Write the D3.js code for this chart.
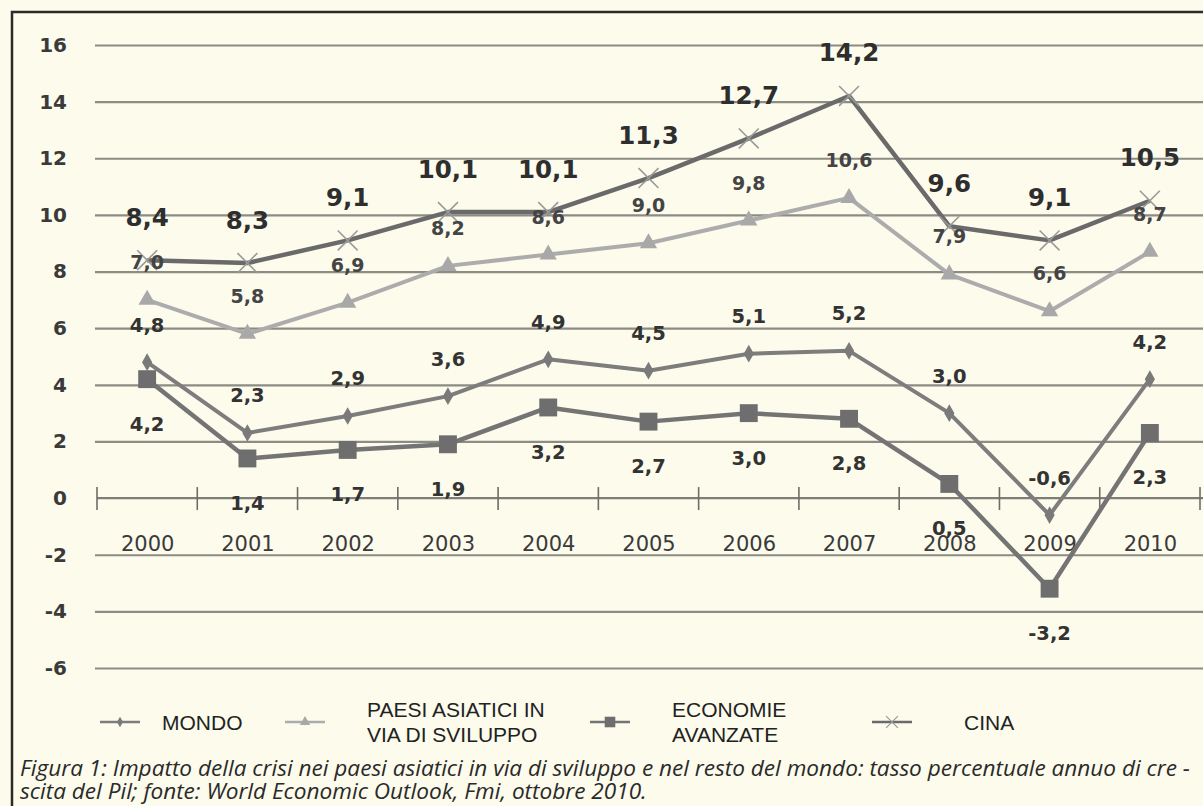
<!DOCTYPE html>
<html>
<head>
<meta charset="utf-8">
<script src="https://cdn.jsdelivr.net/npm/d3@7"></script>
<style>
  body { margin: 0; background: #fcfbec; }
  svg { display: block; }
</style>
</head>
<body>
<div id="chart"></div>
<script>
// data
const years = ['2000', '2001', '2002', '2003', '2004', '2005', '2006', '2007', '2008', '2009', '2010'];
const mondo = [4.8, 2.3, 2.9, 3.6, 4.9, 4.5, 5.1, 5.2, 3.0, -0.6, 4.2];
const asia = [7.0, 5.8, 6.9, 8.2, 8.6, 9.0, 9.8, 10.6, 7.9, 6.6, 8.7];
const avanzate = [4.2, 1.4, 1.7, 1.9, 3.2, 2.7, 3.0, 2.8, 0.5, -3.2, 2.3];
const cina = [8.4, 8.3, 9.1, 10.1, 10.1, 11.3, 12.7, 14.2, 9.6, 9.1, 10.5];
const yTicks = [16, 14, 12, 10, 8, 6, 4, 2, 0, -2, -4, -6];
const legendLabels = [['MONDO'], ['PAESI ASIATICI IN', 'VIA DI SVILUPPO'], ['ECONOMIE', 'AVANZATE'], ['CINA']];
const captionLines = [
  'Figura 1: Impatto della crisi nei paesi asiatici in via di sviluppo e nel resto del mondo: tasso percentuale annuo di cre -',
  'scita del Pil; fonte: World Economic Outlook, Fmi, ottobre 2010.'
];

const W = 1203, H = 806;
const svg = d3.select('#chart').append('svg')
  .attr('width', W)
  .attr('height', H);

svg.append('rect').attr('width', W).attr('height', H).attr('fill', '#fcfbec');

// frame of the box (right side is cut off in the scan)
svg.append('path')
  .attr('d', `M12,${H + 5} V12 H${W + 5}`)
  .attr('fill', 'none')
  .attr('stroke', '#2b2b2b')
  .attr('stroke-width', 2.5);

const y = d3.scaleLinear().domain([-6, 16]).range([668, 45]);
const band = d3.scaleBand().domain(years).range([97, 1200]);
const x = d3.scalePoint().domain(years).range([band('2000') + band.bandwidth() / 2, band('2010') + band.bandwidth() / 2]);

const it = d3.formatLocale({ decimal: ',', thousands: '.', grouping: [3], currency: ['', ''], minus: '-' });
const fmt = it.format('.1f');

// horizontal gridlines
const grid = svg.append('g')
  .attr('transform', `translate(${W},0)`)
  .call(d3.axisLeft(y).tickValues(yTicks.filter(d => d !== 0)).tickSize(W - 95).tickFormat(''));
grid.select('.domain').remove();
grid.selectAll('.tick line').attr('stroke', '#8d8c84').attr('stroke-width', 2.2);

// y labels
const yAxis = svg.append('g')
  .attr('transform', 'translate(67,0)')
  .call(d3.axisLeft(y).tickValues(yTicks).tickSize(0).tickPadding(0).tickFormat(it.format('d')));
yAxis.select('.domain').remove();
yAxis.selectAll('text')
  .attr('font-family', 'DejaVu Sans, Verdana, sans-serif')
  .attr('font-size', 20)
  .attr('font-weight', 'bold')
  .attr('fill', '#3a3a3a');

// zero axis with ticks between the years
const xAxis = svg.append('g')
  .attr('transform', `translate(0,${y(0)})`)
  .call(d3.axisBottom(x).tickSize(0).tickPadding(38));
xAxis.select('.domain').remove();
xAxis.selectAll('text')
  .attr('font-family', 'DejaVu Sans, Verdana, sans-serif')
  .attr('font-size', 21)
  .attr('fill', '#3a3a3a');
xAxis.append('line')
  .attr('x1', 97).attr('x2', W)
  .attr('stroke', '#7e7d76').attr('stroke-width', 2.2);
xAxis.selectAll('.sep')
  .data(years.concat(['end']))
  .enter().append('line')
  .attr('class', 'sep')
  .attr('x1', (d, i) => i < years.length ? band(d) : band.range()[1])
  .attr('x2', (d, i) => i < years.length ? band(d) : band.range()[1])
  .attr('y1', -11).attr('y2', 12)
  .attr('stroke', '#6e6d67').attr('stroke-width', 1.6);

const series = [
  { name: 'mondo', values: mondo, line: '#7d7d7d', width: 4, symbol: d3.symbolDiamond, size: 90, fill: '#7a7a7a', stroke: 'none', labelDy: -37, fontSize: 19.5, labelColor: '#333' },
  { name: 'asia', values: asia, line: '#acacac', width: 4, symbol: d3.symbolTriangle, size: 130, fill: '#a8a8a8', stroke: 'none', labelDy: -38, fontSize: 19, labelColor: '#444' },
  { name: 'avanzate', values: avanzate, line: '#747474', width: 4.5, symbol: d3.symbolSquare, size: 320, fill: '#6e6e6e', stroke: 'none', labelDy: 45, fontSize: 19.5, labelColor: '#333' },
  { name: 'cina', values: cina, line: '#6a6a6a', width: 4.5, symbol: d3.symbolX, size: 260, fill: 'none', stroke: '#9a9a9a', labelDy: -43, fontSize: 24.5, labelColor: '#2e2e2e' }
];

const line = d3.line()
  .x((d, i) => x(years[i]))
  .y(d => y(d));

series.forEach(s => {
  svg.append('path')
    .datum(s.values)
    .attr('d', line)
    .attr('fill', 'none')
    .attr('stroke', s.line)
    .attr('stroke-width', s.width)
    .attr('stroke-linejoin', 'round');

  svg.append('g').selectAll('path')
    .data(s.values)
    .enter().append('path')
    .attr('transform', (d, i) => `translate(${x(years[i])},${y(d)})`)
    .attr('d', d3.symbol(s.symbol, s.size))
    .attr('fill', s.fill)
    .attr('stroke', s.stroke)
    .attr('stroke-width', 1.6);
});

// value labels on top
series.forEach(s => {
  svg.append('g').selectAll('text')
    .data(s.values)
    .enter().append('text')
    .attr('x', (d, i) => x(years[i]))
    .attr('y', d => y(d) + s.labelDy)
    .attr('dominant-baseline', 'central')
    .attr('text-anchor', 'middle')
    .attr('font-family', 'DejaVu Sans, Verdana, sans-serif')
    .attr('font-size', s.fontSize)
    .attr('font-weight', 'bold')
    .attr('fill', s.labelColor)
    .text(d => fmt(d));
});

// legend
const legendX = [100, 285, 590, 872];
const legendTextX = [162, 367, 672, 964];
const legendY = 722;
series.forEach((s, i) => {
  const g = svg.append('g');
  g.append('line')
    .attr('x1', legendX[i]).attr('x2', legendX[i] + 40)
    .attr('y1', legendY).attr('y2', legendY)
    .attr('stroke', s.line).attr('stroke-width', 2.5);
  g.append('path')
    .attr('transform', `translate(${legendX[i] + 20},${legendY})`)
    .attr('d', d3.symbol(s.symbol, s.size * 0.35))
    .attr('fill', s.fill)
    .attr('stroke', s.stroke)
    .attr('stroke-width', 1.2);
  const lines = legendLabels[i];
  g.selectAll('text')
    .data(lines)
    .enter().append('text')
    .attr('x', legendTextX[i])
    .attr('y', (d, j) => legendY + (j - (lines.length - 1) / 2) * 25)
    .attr('dominant-baseline', 'central')
    .attr('font-family', 'Liberation Sans, Arial, sans-serif')
    .attr('font-size', 21)
    .attr('fill', '#222')
    .text(d => d);
});

// caption
svg.append('g').selectAll('text')
  .data(captionLines)
  .enter().append('text')
  .attr('x', 20)
  .attr('y', (d, i) => 776 + i * 23)
  .attr('font-family', 'Open Sans, Noto Sans, sans-serif')
  .attr('font-style', 'italic')
  .attr('font-size', 22.6)
  .attr('fill', '#2a2a2a')
  .text(d => d);
</script>
</body>
</html>
